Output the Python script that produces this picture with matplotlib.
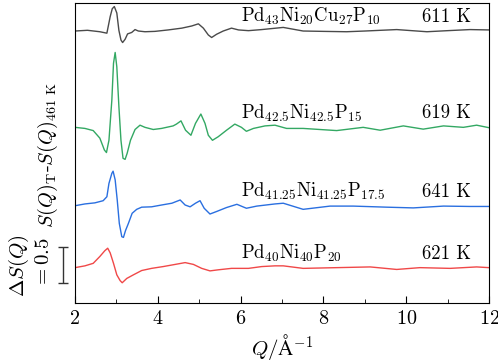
import matplotlib
matplotlib.use("Agg")
import matplotlib.pyplot as plt
from matplotlib.ticker import MultipleLocator

plt.rcParams['font.family'] = 'serif'
plt.rcParams['font.serif'] = ['cmr10']
plt.rcParams['mathtext.fontset'] = 'cm'
plt.rcParams['axes.formatter.use_mathtext'] = True
plt.rcParams['axes.unicode_minus'] = False

# S(Q)_T - S(Q)_461K difference curves
q_black = [2.0, 2.3, 2.6, 2.77, 2.85, 2.90, 2.95, 3.01, 3.06, 3.11, 3.15, 3.21,
           3.27, 3.37, 3.45, 3.53, 3.69, 3.93, 4.25, 4.58, 4.82, 4.98, 5.10,
           5.22, 5.30, 5.42, 5.58, 5.78, 5.95, 6.19, 6.51, 7.03, 7.51, 8.0,
           8.56, 9.0, 9.77, 10.5, 11.0, 11.54, 12.0]
ds_black = [0.0, 0.01, -0.01, -0.03, 0.2, 0.31, 0.34, 0.25, 0.01, -0.125, -0.16,
            -0.115, -0.04, -0.02, 0.02, 0.0, -0.01, -0.005, 0.015, 0.04, 0.07,
            0.1, 0.04, -0.055, -0.09, -0.045, 0.0, 0.04, 0.015, 0.005, 0.02,
            0.05, 0.0, -0.005, -0.01, 0.0, 0.02, -0.01, 0.005, 0.02, 0.015]

q_green = [2.0, 2.24, 2.44, 2.60, 2.71, 2.76, 2.82, 2.89, 2.93, 2.97, 3.01,
           3.06, 3.11, 3.16, 3.21, 3.26, 3.34, 3.45, 3.57, 3.69, 3.89, 4.09,
           4.37, 4.45, 4.56, 4.67, 4.80, 4.91, 5.04, 5.14, 5.22, 5.32, 5.46,
           5.66, 5.86, 6.02, 6.14, 6.31, 6.59, 6.83, 7.11, 7.51, 8.32, 8.96,
           9.37, 9.93, 10.41, 10.9, 11.38, 11.7, 12.0]
ds_green = [0.0, -0.015, -0.045, -0.15, -0.315, -0.35, -0.18, 0.38, 0.89, 1.04,
            0.84, 0.29, -0.18, -0.43, -0.445, -0.36, -0.18, -0.03, 0.03, 0.0,
            -0.03, -0.015, 0.02, 0.045, 0.09, -0.04, -0.11, 0.055, 0.185, 0.055,
            -0.11, -0.18, -0.13, -0.04, 0.045, 0.0, -0.055, -0.015, 0.02, 0.03,
            -0.015, -0.015, -0.045, 0.0, -0.04, 0.02, -0.025, 0.02, 0.0, 0.03,
            -0.005]

q_blue = [2.0, 2.24, 2.48, 2.68, 2.77, 2.82, 2.89, 2.92, 2.97, 3.02, 3.07,
          3.13, 3.17, 3.22, 3.29, 3.38, 3.49, 3.61, 3.85, 4.09, 4.34, 4.54,
          4.66, 4.78, 4.91, 5.02, 5.12, 5.26, 5.42, 5.66, 5.91, 6.14, 6.39,
          6.83, 7.03, 7.51, 8.16, 8.72, 9.53, 10.17, 10.9, 11.54, 12.0]
ds_blue = [-0.01, 0.015, 0.03, 0.06, 0.115, 0.3, 0.44, 0.47, 0.35, 0.07, -0.255,
           -0.44, -0.45, -0.355, -0.255, -0.115, -0.06, -0.03, -0.025, 0.0,
           0.025, 0.07, 0.0, -0.025, 0.025, 0.06, -0.045, -0.125, -0.09, -0.035,
           0.01, -0.045, -0.015, 0.015, 0.025, -0.06, -0.015, -0.015, -0.03,
           -0.04, -0.015, -0.02, -0.02]

q_red = [2.0, 2.24, 2.44, 2.60, 2.72, 2.79, 2.85, 2.93, 3.01, 3.09, 3.14, 3.25,
         3.41, 3.61, 3.85, 4.13, 4.42, 4.66, 4.86, 5.06, 5.26, 5.46, 5.78,
         6.19, 6.51, 6.83, 7.03, 7.51, 8.32, 9.13, 9.77, 10.33, 11.06, 11.7,
         12.0]
ds_red = [-0.005, 0.02, 0.055, 0.15, 0.23, 0.265, 0.2, 0.055, -0.105, -0.185,
          -0.215, -0.155, -0.105, -0.045, -0.015, 0.01, 0.04, 0.065, 0.04,
          -0.015, -0.05, -0.035, -0.015, -0.015, 0.01, 0.02, 0.02, -0.015,
          -0.005, 0.005, -0.03, -0.005, -0.015, 0.005, -0.005]

alloys = [r'Pd$_{43}$Ni$_{20}$Cu$_{27}$P$_{10}$',
          r'Pd$_{42.5}$Ni$_{42.5}$P$_{15}$',
          r'Pd$_{41.25}$Ni$_{41.25}$P$_{17.5}$',
          r'Pd$_{40}$Ni$_{40}$P$_{20}$']
temps = ['611 K', '619 K', '641 K', '621 K']

curves = [(q_black, ds_black), (q_green, ds_green), (q_blue, ds_blue), (q_red, ds_red)]
colors = ['#4a4a4a', '#33a863', '#2a6fe0', '#f04848']
offsets = [3.778, 2.44, 1.361, 0.496]
label_y = [3.907, 2.565, 1.476, 0.611]

fig = plt.figure(figsize=(4.98, 3.63), dpi=100)
ax = fig.add_axes([0.1506, 0.1653, 0.8314, 0.8264])

for (q, ds), c, off, name, t, ly in zip(curves, colors, offsets, alloys, temps, label_y):
    ax.plot(q, [v + off for v in ds], color=c, lw=1.0)
    ax.text(6.01, ly, name, fontsize=13.5, ha='left', va='baseline')
    ax.text(11.57, ly, t, fontsize=13.5, ha='right', va='baseline')

# scale bar for dS(Q) = 0.5
ax.errorbar([1.71], [0.528], yerr=[0.25], color='#333333', lw=1.0,
            capsize=3.5, capthick=1.0, clip_on=False)
for cap in ax.lines[-2:]:
    cap.set_clip_on(False)

ax.set_xlim(2, 12)
ax.set_ylim(0, 4.167)
ax.xaxis.set_major_locator(MultipleLocator(2))
ax.xaxis.set_minor_locator(MultipleLocator(1))
ax.tick_params(axis='x', which='both', direction='in', top=False, labelsize=14.5)
ax.tick_params(axis='x', which='major', length=5, pad=5)
ax.tick_params(axis='x', which='minor', length=3)
ax.set_yticks([])
ax.set_xlabel(r'$Q/\mathrm{\AA}^{-1}$', fontsize=15, labelpad=3)

fig.text(0.096, 0.572, r'$S(Q)_\mathrm{T}$-$S(Q)_\mathrm{461\ K}$', rotation=90,
         fontsize=14.5, ha='center', va='center')
fig.text(0.038, 0.267, r'$\Delta S(Q)$', rotation=90, fontsize=15,
         ha='center', va='center')
fig.text(0.088, 0.276, r'$= 0.5$', rotation=90, fontsize=15,
         ha='center', va='center')

fig.savefig('out.png', dpi=100)
